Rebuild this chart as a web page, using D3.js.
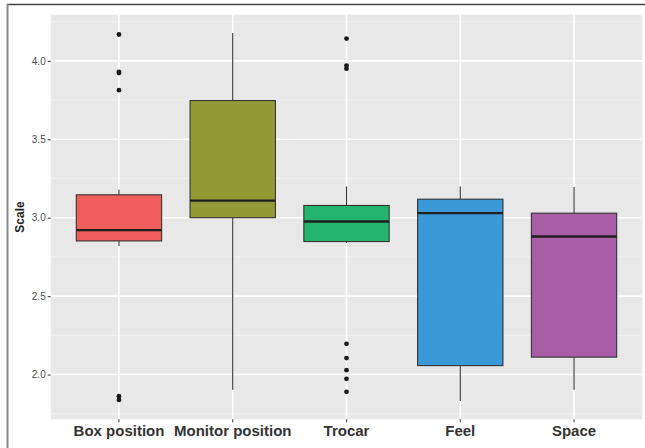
<!DOCTYPE html>
<html>
<head>
<meta charset="utf-8">
<script src="https://cdn.jsdelivr.net/npm/d3@7"></script>
<style>
  html, body { margin: 0; padding: 0; background: #fff; }
  svg { display: block; font-family: "Liberation Sans", Arial, sans-serif; }
</style>
</head>
<body>
<svg id="chart" width="645" height="448"></svg>
<script>
// Five rated items, each summarised as a box plot
const categories = ["Box position", "Monitor position", "Trocar", "Feel", "Space"];
const whiskerLow  = [2.82, 1.903, 2.84, 1.832, 1.903];
const q1          = [2.852, 3.0, 2.848, 2.057, 2.111];
const median      = [2.921, 3.109, 2.976, 3.029, 2.88];
const q3          = [3.146, 3.747, 3.078, 3.118, 3.029];
const whiskerHigh = [3.178, 4.177, 3.199, 3.199, 3.195];
const outliers = [
  [4.168, 3.93, 3.922, 3.813, 1.862, 1.838],
  [],
  [4.142, 3.97, 3.95, 2.196, 2.105, 2.028, 1.973, 1.89],
  [],
  []
];
const fills = ["#F15D5B", "#939B37", "#25B46E", "#3A99D7", "#A95DA6"];
const yTicks = [2.0, 2.5, 3.0, 3.5, 4.0];
const yMinor = [1.75, 2.25, 2.75, 3.25, 3.75, 4.25];

const svg = d3.select("#chart");

// outer frame lines
svg.append("line").attr("x1", 7).attr("x2", 645).attr("y1", 4.5).attr("y2", 4.5)
  .attr("stroke", "#444").attr("stroke-width", 1.5);
svg.append("line").attr("x1", 7.5).attr("x2", 7.5).attr("y1", 4).attr("y2", 448)
  .attr("stroke", "#8a8a8a").attr("stroke-width", 2);

const panel = { left: 50.7, right: 642.3, top: 14.7, bottom: 419.3 };

// data extent with 5% padding on each side
const allVals = whiskerLow.concat(whiskerHigh, outliers.flat());
const lo = d3.min(allVals), hi = d3.max(allVals), pad = (hi - lo) * 0.05;
const y = d3.scaleLinear().domain([lo - pad, hi + pad]).range([panel.bottom, panel.top]);

const x = d3.scaleBand().domain(categories)
  .range([panel.left, panel.right]).paddingOuter(0.1).paddingInner(0);
const step = x.bandwidth();
const cx = c => x(c) + step / 2;
const boxW = step * 0.75;

// panel background
svg.append("rect").attr("x", panel.left).attr("y", panel.top)
  .attr("width", panel.right - panel.left).attr("height", panel.bottom - panel.top)
  .attr("fill", "#E8E8E8");

const grid = svg.append("g");
grid.selectAll("line.minor").data(yMinor).join("line")
  .attr("x1", panel.left).attr("x2", panel.right)
  .attr("y1", d => y(d)).attr("y2", d => y(d))
  .attr("stroke", "#F4F4F4").attr("stroke-width", 0.8);
grid.selectAll("line.major").data(yTicks).join("line")
  .attr("x1", panel.left).attr("x2", panel.right)
  .attr("y1", d => y(d)).attr("y2", d => y(d))
  .attr("stroke", "#FFFFFF").attr("stroke-width", 1.6);
grid.selectAll("line.vmajor").data(categories).join("line")
  .attr("x1", d => cx(d)).attr("x2", d => cx(d))
  .attr("y1", panel.top).attr("y2", panel.bottom)
  .attr("stroke", "#FFFFFF").attr("stroke-width", 1.6);

// boxes
const g = svg.append("g");
categories.forEach((c, i) => {
  const xc = cx(c);
  g.append("line").attr("x1", xc).attr("x2", xc)
    .attr("y1", y(q3[i])).attr("y2", y(whiskerHigh[i]))
    .attr("stroke", "#333").attr("stroke-width", 1.1);
  g.append("line").attr("x1", xc).attr("x2", xc)
    .attr("y1", y(q1[i])).attr("y2", y(whiskerLow[i]))
    .attr("stroke", "#333").attr("stroke-width", 1.1);
  g.append("rect").attr("x", xc - boxW / 2).attr("y", y(q3[i]))
    .attr("width", boxW).attr("height", y(q1[i]) - y(q3[i]))
    .attr("fill", fills[i]).attr("stroke", "#333").attr("stroke-width", 1.1);
  g.append("line").attr("x1", xc - boxW / 2).attr("x2", xc + boxW / 2)
    .attr("y1", y(median[i])).attr("y2", y(median[i]))
    .attr("stroke", "#1f1f1f").attr("stroke-width", 2.4);
  g.selectAll(null).data(outliers[i]).join("circle")
    .attr("cx", xc).attr("cy", d => y(d)).attr("r", 2.4).attr("fill", "#1a1a1a");
});

// y axis
const yAxis = svg.append("g").attr("transform", `translate(${panel.left},0)`)
  .call(d3.axisLeft(y).tickValues(yTicks).tickFormat(d3.format(".1f")).tickSize(3).tickPadding(2));
yAxis.select(".domain").remove();
yAxis.selectAll(".tick line").attr("stroke", "#444").attr("stroke-width", 1.1);
yAxis.selectAll(".tick text").attr("fill", "#4D4D4D").attr("font-size", 10)
  .attr("font-family", "Liberation Sans, Arial, sans-serif");

// x axis
const xAxis = svg.append("g").attr("transform", `translate(0,${panel.bottom})`)
  .call(d3.axisBottom(x).tickSize(3).tickPadding(3));
xAxis.select(".domain").remove();
xAxis.selectAll(".tick line").attr("stroke", "#444").attr("stroke-width", 1.1);
xAxis.selectAll(".tick text").attr("fill", "#333").attr("font-size", 15)
  .attr("font-weight", "bold").attr("font-family", "Liberation Sans, Arial, sans-serif");

// y title
svg.append("text").attr("transform", `translate(24,${(panel.top + panel.bottom) / 2}) rotate(-90)`)
  .attr("text-anchor", "middle").attr("font-size", 12).attr("font-weight", "bold")
  .attr("fill", "#222").text("Scale");
</script>
</body>
</html>
